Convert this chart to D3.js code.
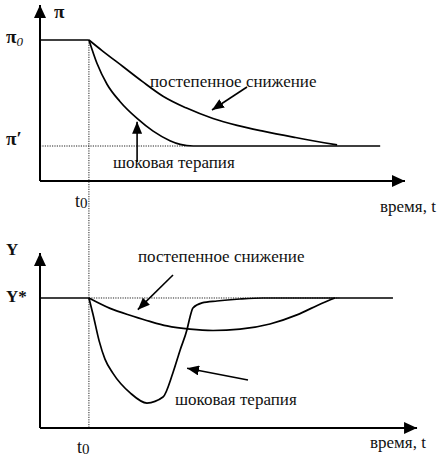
<!DOCTYPE html>
<html><head><meta charset="utf-8">
<script src="https://cdn.jsdelivr.net/npm/d3@7"></script>
<style>body{margin:0;background:#fff}svg{display:block}</style>
</head><body>
<script>
// time units (0..100), t0 = moment of policy start
const t0 = 13.4;
const tEndTop = 100, tEndBottom = 103.3;

// Top chart: inflation π (π' = 0, π0 = 100)
const piTicks = {pi0: 100, piPrime: 0};
const topShockT = [13.4, 15.6, 18.4, 21.9, 26.6, 31, 35.6, 38.4, 42, 93.2];
const topShockV = [100, 78, 58, 42, 26, 14, 5, 1.5, 0, 0];
const topGradT = [13.4, 17, 22.7, 28, 33.7, 40, 47.4, 54, 61.1, 70, 81.4];
const topGradV = [100, 90, 75, 61, 47, 36, 26, 19.5, 14, 8, 1];

// Bottom chart: output Y (Y* = 100)
const yStar = 100;
const botGradT = [13.4, 19.2, 25.5, 30.1, 34.8, 41.1, 47.4, 54.8, 63, 70.4, 77.3, 80.8];
const botGradV = [100, 92, 86, 82, 78.5, 76, 75, 76, 80, 87, 96, 100];
const botShockT = [13.4, 14.5, 16.2, 17.8, 20, 24.7, 29.3, 33.7, 36.4, 38.4, 40.3, 41.1, 41.9, 44.4, 48.5, 54.8, 61.1, 96.7];
const botShockV = [100, 87.7, 67, 53, 42, 27, 19.2, 23.8, 42.3, 60, 76, 85.4, 92.3, 96.2, 97.7, 99.2, 100, 100];

const labels = {gradual: "постепенное снижение", shock: "шоковая терапия", time: "время, t"};

const W = 441, H = 458;
const FONT = "'Liberation Serif', 'Times New Roman', 'DejaVu Serif', serif";
const svg = d3.select("body").append("svg").attr("width", W).attr("height", H)
  .attr("font-family", FONT);

const x = d3.scaleLinear().domain([0, 100]).range([40, 405]);
const yTop = d3.scaleLinear().domain([-33, 133]).range([181, 5]);
const yBot = d3.scaleLinear().domain([0, 134.6]).range([428, 253]);

const defs = svg.append("defs");
defs.append("marker").attr("id", "ah").attr("viewBox", "0 0 12 10").attr("refX", 12).attr("refY", 5)
  .attr("markerWidth", 12).attr("markerHeight", 10).attr("markerUnits", "userSpaceOnUse").attr("orient", "auto")
  .append("path").attr("d", "M0,0L12,5L0,10Z").attr("fill", "#000");
defs.append("marker").attr("id", "ax").attr("viewBox", "0 0 13 12").attr("refX", 13).attr("refY", 6)
  .attr("markerWidth", 13).attr("markerHeight", 12).attr("markerUnits", "userSpaceOnUse").attr("orient", "auto")
  .append("path").attr("d", "M0,0L13,6L0,12Z").attr("fill", "#000");

const line = (ys) => d3.line().x(d => x(d[0])).y(d => ys(d[1])).curve(d3.curveMonotoneX);
const dotted = {stroke: "#222", "stroke-width": 1, "stroke-dasharray": "1.2,1.2"};
function seg(x1, y1, x2, y2, st) {
  const l = svg.append("line").attr("x1", x1).attr("y1", y1).attr("x2", x2).attr("y2", y2);
  Object.entries(st).forEach(([k, v]) => l.attr(k, v));
  return l;
}

// dotted guides
seg(x(t0), yTop(piTicks.pi0), x(t0), yBot(0), dotted);
seg(x(0), yTop(piTicks.piPrime), x(40), yTop(piTicks.piPrime), dotted);
seg(x(t0), yBot(yStar), x(82), yBot(yStar), dotted);

// axes
const axSt = {stroke: "#000", "stroke-width": 2};
seg(x(0), yTop(-33), x(0), yTop(133), axSt).attr("marker-end", "url(#ax)");
seg(x(0), yTop(-33), x(tEndTop), yTop(-33), axSt).attr("marker-end", "url(#ax)");
seg(x(0), yBot(0), x(0), yBot(134.6), axSt).attr("marker-end", "url(#ax)");
seg(x(0), yBot(0), x(tEndBottom), yBot(0), axSt).attr("marker-end", "url(#ax)");

const curveSt = (p) => p.attr("fill", "none").attr("stroke", "#000").attr("stroke-width", 1.7);
// initial levels
seg(x(0), yTop(piTicks.pi0), x(t0), yTop(piTicks.pi0), {stroke: "#000", "stroke-width": 1.7});
seg(x(0), yBot(yStar), x(t0), yBot(yStar), {stroke: "#000", "stroke-width": 1.7});

curveSt(svg.append("path").attr("d", line(yTop)(topShockT.map((t, i) => [t, topShockV[i]]))));
curveSt(svg.append("path").attr("d", line(yTop)(topGradT.map((t, i) => [t, topGradV[i]]))));
curveSt(svg.append("path").attr("d", line(yBot)(botGradT.map((t, i) => [t, botGradV[i]]))));
curveSt(svg.append("path").attr("d", line(yBot)(botShockT.map((t, i) => [t, botShockV[i]]))));

// labels
function txt(xp, yp, s, size, opts = {}) {
  const t = svg.append("text").attr("x", xp).attr("y", yp).attr("font-size", size)
    .attr("font-family", FONT).attr("fill", "#111").text(s);
  if (opts.bold) t.attr("font-weight", "bold");
  return t;
}
const fs = 17;
txt(150, 87, labels.gradual, fs);
txt(113, 168, labels.shock, fs);
txt(138, 262, labels.gradual, fs);
txt(175, 405, labels.shock, fs);
txt(380, 212, labels.time, fs);
txt(370, 448, labels.time, fs);

// axis symbols
txt(54, 18, "π", 19, {bold: true});
const p0 = txt(6, 43, "π", 19, {bold: true});
p0.append("tspan").attr("font-size", 13).attr("font-style", "italic").attr("font-weight", "normal").attr("dy", 3).text("0");
txt(6, 145, "π′", 19, {bold: true});
const tt = txt(75, 207, "t", 18);
tt.append("tspan").attr("font-size", 15).attr("dy", 1).text("0");
const tb = txt(77, 453, "t", 18);
tb.append("tspan").attr("font-size", 15).attr("dy", 1).text("0");
txt(6, 255, "Y", 17, {bold: true});
txt(6, 302, "Y*", 17, {bold: true});

// pointer arrows (to curves)
const arSt = {stroke: "#000", "stroke-width": 1.6};
seg(247, 87, x(47.4) - 1, yTop(34), arSt).attr("marker-end", "url(#ah)");
seg(x(26.6), 162, x(26.6), yTop(23), arSt).attr("marker-end", "url(#ah)");
seg(173, 275, x(26.8), yBot(91), arSt).attr("marker-end", "url(#ah)");
seg(248, 380, x(40.3), yBot(46), arSt).attr("marker-end", "url(#ah)");
</script>
</body></html>
